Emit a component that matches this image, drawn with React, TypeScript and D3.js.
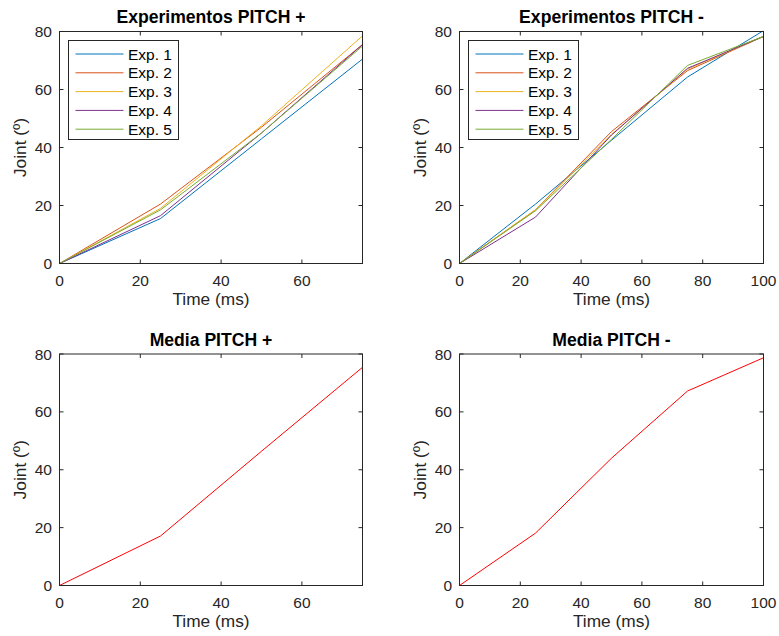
import React from "react";
import * as d3 from "d3";

// time samples (ms)
const timePlus = [0, 25, 50, 75];
const timeMinus = [0, 25, 50, 75, 100];

// PITCH + experiments (joint angle, º)
const plusExp1 = [0, 15.5, 43, 70.5];
const plusExp2 = [0, 20.5, 47, 75.5];
const plusExp3 = [0, 19, 47.5, 78.5];
const plusExp4 = [0, 16.5, 45, 75.5];
const plusExp5 = [0, 18.5, 45, 75];
const plusMean = [0, 17.1, 46.4, 75.4];

// PITCH - experiments
const minusExp1 = [0, 20.5, 42.5, 64.3, 80.3];
const minusExp2 = [0, 18.5, 45.5, 66.5, 78.3];
const minusExp3 = [0, 18.5, 44.5, 67, 78.3];
const minusExp4 = [0, 16, 44.3, 67.3, 78.3];
const minusExp5 = [0, 18.2, 42.8, 68.3, 78.3];
const minusMean = [0, 18.1, 44, 67.2, 78.7];

const expNames = ["Exp. 1", "Exp. 2", "Exp. 3", "Exp. 4", "Exp. 5"];
const expColors = ["#0072BD", "#D95319", "#EDB120", "#7E2F8E", "#77AC30"];
const yTicks = [0, 20, 40, 60, 80];
const xTicksPlus = [0, 20, 40, 60];
const xTicksMinus = [0, 20, 40, 60, 80, 100];

const font = "'Liberation Sans', Arial, Helvetica, sans-serif";
const axisColor = "#262626";

type Series = { values: number[]; color: string; name?: string };

function Panel({ id, title, left, right, top, bottom, xMax, xTicks, time, series, legend }: {
  id: string; title: string; left: number; right: number; top: number; bottom: number;
  xMax: number; xTicks: number[]; time: number[]; series: Series[]; legend: boolean;
}) {
  const x = d3.scaleLinear().domain([0, xMax]).range([left, right]);
  const y = d3.scaleLinear().domain([0, 80]).range([bottom, top]);
  const line = d3.line<number>().x((_, i) => x(time[i])).y((d) => y(d));
  const tick = 4;
  const cx = (left + right) / 2;

  return (
    <g>
      <defs>
        <clipPath id={"clip-" + id}>
          <rect x={left} y={top - 1} width={right - left} height={bottom - top + 1} />
        </clipPath>
      </defs>
      <g clipPath={`url(#clip-${id})`}>
        {series.map((s, i) => (
          <path key={i} d={line(s.values) || ""} fill="none" stroke={s.color} strokeWidth={1} />
        ))}
      </g>
      {/* axes box, ticks on all sides */}
      <rect x={left} y={top} width={right - left} height={bottom - top} fill="none" stroke={axisColor} strokeWidth={1} />
      {xTicks.map((t) => (
        <g key={"x" + t}>
          <line x1={x(t)} x2={x(t)} y1={bottom} y2={bottom - tick} stroke={axisColor} />
          <line x1={x(t)} x2={x(t)} y1={top} y2={top + tick} stroke={axisColor} />
          <text x={x(t)} y={bottom + 22.5} textAnchor="middle" fontSize={15.5} fill={axisColor} fontFamily={font}>{t}</text>
        </g>
      ))}
      {yTicks.map((t) => (
        <g key={"y" + t}>
          <line x1={left} x2={left + tick} y1={y(t)} y2={y(t)} stroke={axisColor} />
          <line x1={right} x2={right - tick} y1={y(t)} y2={y(t)} stroke={axisColor} />
          <text x={left - 7.5} y={y(t) + 5.5} textAnchor="end" fontSize={15.5} fill={axisColor} fontFamily={font}>{t}</text>
        </g>
      ))}
      <text x={cx} y={top - 8.5} textAnchor="middle" fontSize={17.6} fontWeight="bold" fill="#000" fontFamily={font}>{title}</text>
      <text x={cx} y={bottom + 41.5} textAnchor="middle" fontSize={17.3} fill={axisColor} fontFamily={font}>Time (ms)</text>
      <text transform={`translate(${left - 33.5},${(top + bottom) / 2}) rotate(-90)`} textAnchor="middle" fontSize={17.3} fill={axisColor} fontFamily={font}>Joint (º)</text>
      {legend && (
        <g transform={`translate(${left + 9},${top + 9})`}>
          <rect x={0} y={0} width={110} height={99} fill="#fff" stroke={axisColor} strokeWidth={1} />
          {series.map((s, i) => (
            <g key={i} transform={`translate(0,${13.5 + i * 18.8})`}>
              <line x1={7} x2={55} y1={0} y2={0} stroke={s.color} strokeWidth={1} />
              <text x={59.5} y={5.5} fontSize={15.5} fill="#000" fontFamily={font}>{s.name}</text>
            </g>
          ))}
        </g>
      )}
    </g>
  );
}

export default function App() {
  const plusSeries = [plusExp1, plusExp2, plusExp3, plusExp4, plusExp5].map((v, i) => ({ values: v, color: expColors[i], name: expNames[i] }));
  const minusSeries = [minusExp1, minusExp2, minusExp3, minusExp4, minusExp5].map((v, i) => ({ values: v, color: expColors[i], name: expNames[i] }));
  return (
    <svg width={779} height={636} style={{ position: "absolute", left: 0, top: 0, background: "#fff" }}>
      <rect width={779} height={636} fill="#fff" />
      <Panel id="ep" title="Experimentos PITCH +" left={59.5} right={362.5} top={31.5} bottom={263.5} xMax={75} xTicks={xTicksPlus} time={timePlus} series={plusSeries} legend />
      <Panel id="em" title="Experimentos PITCH -" left={459.5} right={763.5} top={31.5} bottom={263.5} xMax={100} xTicks={xTicksMinus} time={timeMinus} series={minusSeries} legend />
      <Panel id="mp" title="Media PITCH +" left={59.5} right={362.5} top={354} bottom={585.5} xMax={75} xTicks={xTicksPlus} time={timePlus} series={[{ values: plusMean, color: "#FF0000" }]} legend={false} />
      <Panel id="mm" title="Media PITCH -" left={459.5} right={763.5} top={354} bottom={585.5} xMax={100} xTicks={xTicksMinus} time={timeMinus} series={[{ values: minusMean, color: "#FF0000" }]} legend={false} />
    </svg>
  );
}
